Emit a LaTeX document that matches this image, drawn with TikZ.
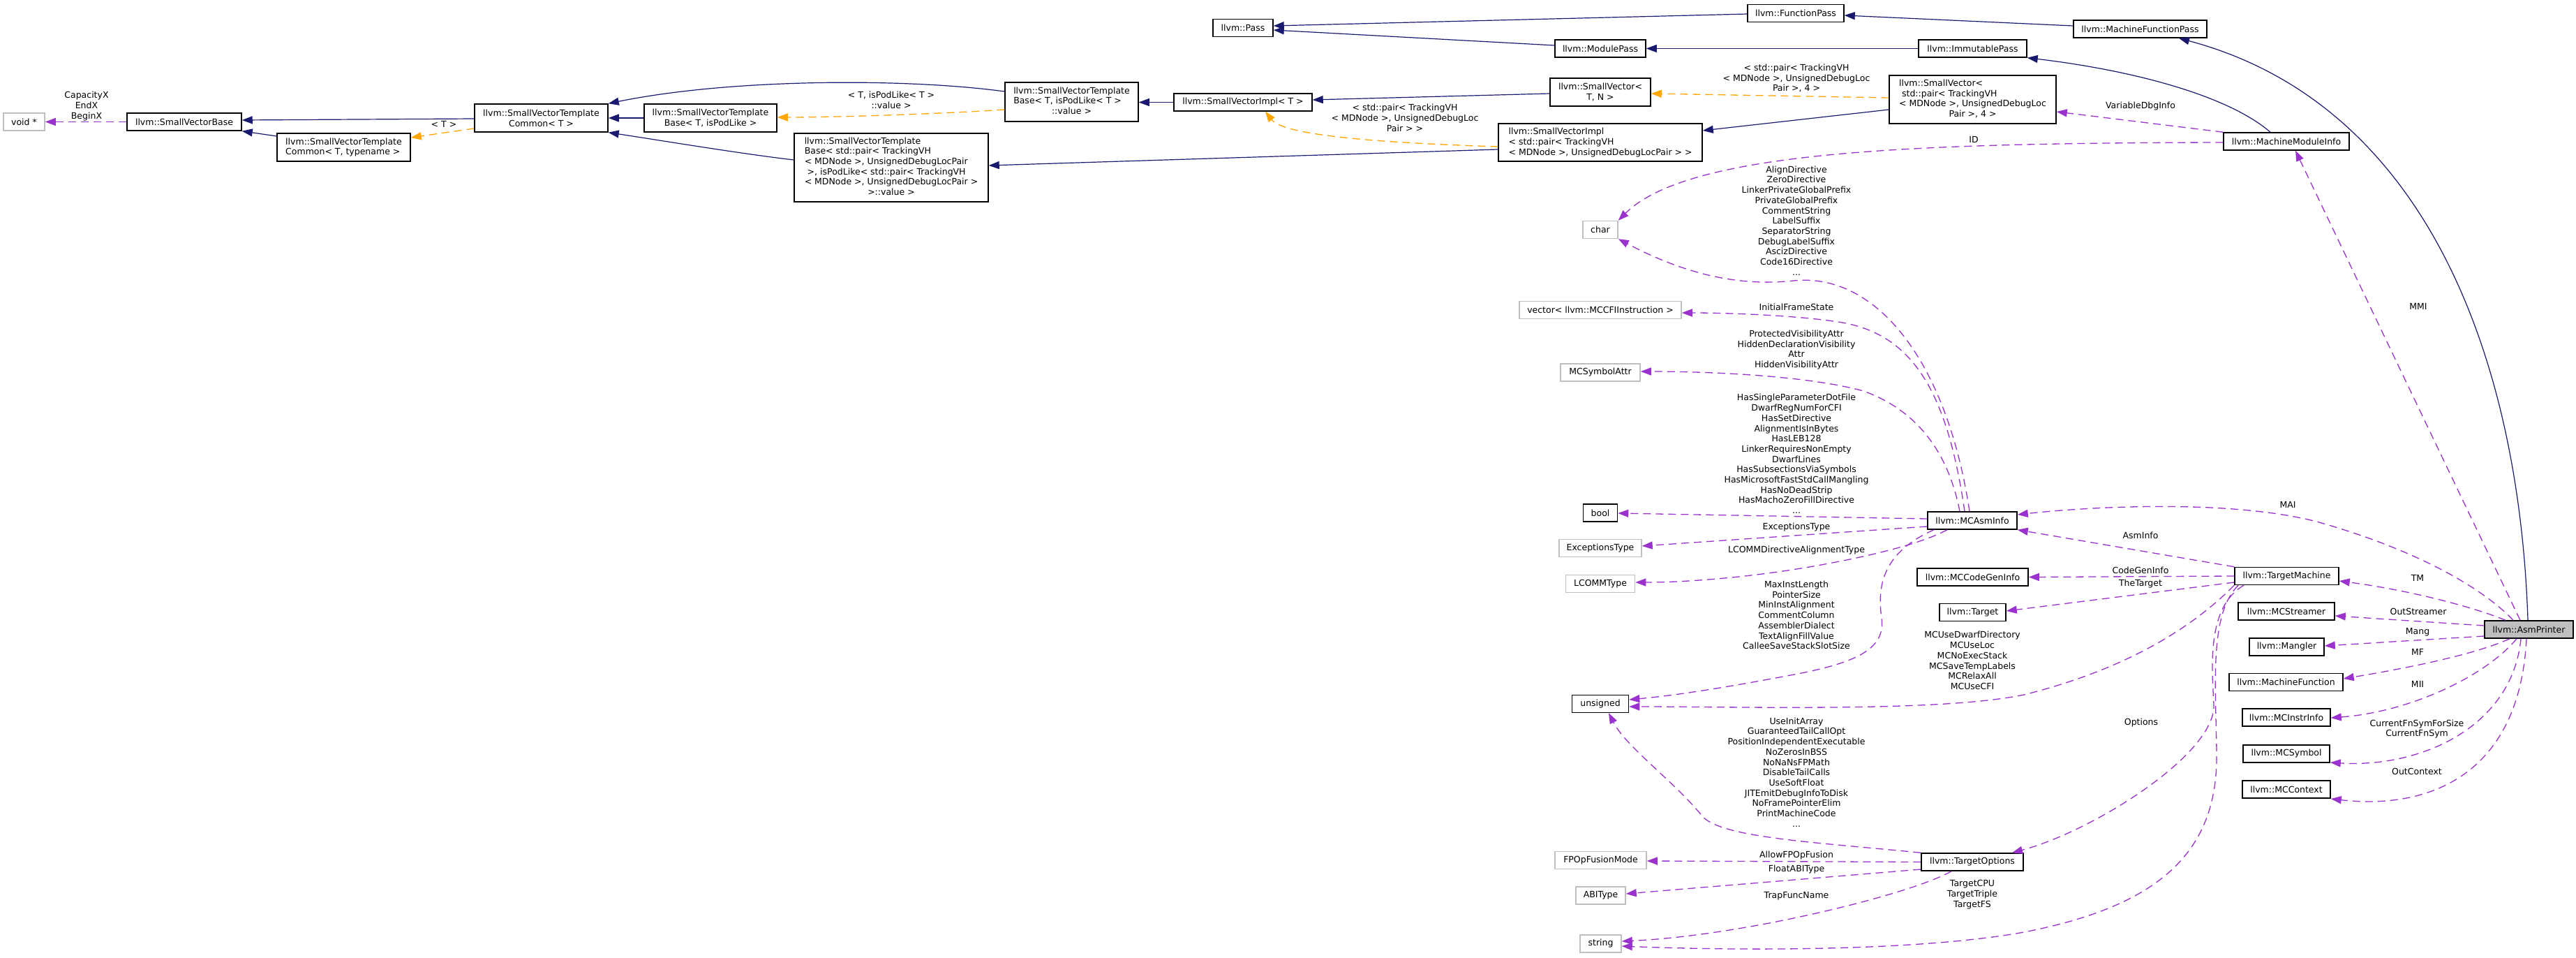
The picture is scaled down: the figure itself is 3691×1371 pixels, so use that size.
\documentclass[tikz,border=0pt]{standalone}
\usepackage{fontspec}
\setmainfont{DejaVu Sans}
\usetikzlibrary{arrows.meta}
\definecolor{edgeblue}{RGB}{25,25,112}
\definecolor{edgeorchid}{RGB}{154,50,205}
\definecolor{edgeorange}{RGB}{255,165,0}
\definecolor{boxgrey}{RGB}{191,191,191}
\newcommand\gfont{\fontsize{12.5}{14.7}\selectfont}
\tikzset{
  cls/.style={draw=black, line width=1.5pt, fill=white, inner sep=0pt, minimum height=25pt, font=\gfont, align=center},
  undoc/.style={cls, draw=boxgrey},
  focus/.style={cls, fill=boxgrey},
  headtip/.style={-{Triangle[length=15pt,width=11pt]}},
  inherit/.style={headtip, draw=edgeblue, line width=1.2pt},
  usage/.style={headtip, draw=edgeorchid, line width=1.3pt, dash pattern=on 11pt off 7pt},
  tmpl/.style={usage, draw=edgeorange},
  elabel/.style={font=\gfont, align=center, inner sep=0pt}
}

\begin{document}
\begin{tikzpicture}[x=1pt, y=-1pt]
  \useasboundingbox (0,0) rectangle (3691,1371);
  \fill[white] (0,0) rectangle (3691,1371);
  %%%%% CLASSES %%%%%
  \node[undoc, minimum width=59pt] (voidp) at (34.5,174.5) {void *};
  \node[cls, minimum width=164pt] (svbase) at (264,174.5) {llvm::SmallVectorBase};
  \node[cls, minimum width=191pt, minimum height=40pt, align=left] (svtcommontt) at (492.5,211) {llvm::SmallVectorTemplate\\Common< T, typename >};
  \node[cls, minimum width=191pt, minimum height=40pt] (svtcommont) at (775.5,169) {llvm::SmallVectorTemplate\\Common< T >};
  \node[cls, minimum width=190pt, minimum height=40pt] (svtbasetp) at (1018,169) {llvm::SmallVectorTemplate\\Base< T, isPodLike >};
  \node[cls, minimum width=191pt, minimum height=56pt] (svtbasetv) at (1535.5,146) {\begin{tabular}{@{}l@{}}llvm::SmallVectorTemplate\\Base< T, isPodLike< T >\\\multicolumn{1}{@{}c@{}}{::value >}\end{tabular}};
  \node[cls, minimum width=278pt, minimum height=98pt] (svtbasepair) at (1277,240) {\begin{tabular}{@{}l@{}}llvm::SmallVectorTemplate\\Base< std::pair< TrackingVH\\< MDNode >, UnsignedDebugLocPair\\\ >, isPodLike< std::pair< TrackingVH\\< MDNode >, UnsignedDebugLocPair >\\\multicolumn{1}{@{}c@{}}{>::value >}\end{tabular}};
  \node[cls, minimum width=86pt] (pass) at (1781,40) {llvm::Pass};
  \node[cls, minimum width=198pt] (svimplt) at (1781,146.5) {llvm::SmallVectorImpl< T >};
  \node[cls, minimum width=138pt] (functionpass) at (2573,19) {llvm::FunctionPass};
  \node[cls, minimum width=130pt] (modulepass) at (2293,69.5) {llvm::ModulePass};
  \node[cls, minimum width=155pt] (immutablepass) at (2826.5,69.5) {llvm::ImmutablePass};
  \node[cls, minimum width=144pt, minimum height=40pt] (smallvectortn) at (2293,132) {llvm::SmallVector<\\T, N >};
  \node[cls, minimum width=239pt, minimum height=69pt] (smallvectorpair) at (2826.5,142.5) {\begin{tabular}{@{}l@{}}llvm::SmallVector<\\\ std::pair< TrackingVH\\< MDNode >, UnsignedDebugLoc\\\multicolumn{1}{@{}c@{}}{Pair >, 4 >}\end{tabular}};
  \node[cls, minimum width=292pt, minimum height=54pt, align=left] (svimplpair) at (2293,204) {llvm::SmallVectorImpl\\< std::pair< TrackingVH\\< MDNode >, UnsignedDebugLocPair > >};
  \node[cls, minimum width=191pt] (machinefunctionpass) at (3066.5,41.5) {llvm::MachineFunctionPass};
  \node[cls, minimum width=180pt] (machinemoduleinfo) at (3276,202.5) {llvm::MachineModuleInfo};
  \node[undoc, minimum width=50pt] (char) at (2293,329) {char};
  \node[undoc, minimum width=232pt] (vectorcfi) at (2293,444) {vector< llvm::MCCFIInstruction >};
  \node[undoc, minimum width=114pt] (mcsymbolattr) at (2293,533.5) {MCSymbolAttr};
  \node[cls, minimum width=49pt] (bool) at (2293,734.5) {bool};
  \node[cls, minimum width=128pt] (mcasminfo) at (2826,745.5) {llvm::MCAsmInfo};
  \node[undoc, minimum width=118pt] (exceptionstype) at (2293,785) {ExceptionsType};
  \node[undoc, minimum width=99pt] (lcommtype) at (2293,836) {LCOMMType};
  \node[cls, minimum width=159pt] (mccodegeninfo) at (2826.5,826.5) {llvm::MCCodeGenInfo};
  \node[cls, minimum width=95pt] (target) at (2826.5,877) {llvm::Target};
  \node[cls, minimum width=81pt] (unsigned) at (2293,1008) {unsigned};
  \node[cls, minimum width=146pt] (targetoptions) at (2826,1234.5) {llvm::TargetOptions};
  \node[undoc, minimum width=131pt] (fpopfusionmode) at (2293.5,1232) {FPOpFusionMode};
  \node[undoc, minimum width=71pt] (abitype) at (2293.5,1282.5) {ABIType};
  \node[undoc, minimum width=59pt] (string) at (2293.5,1351.5) {string};
  \node[cls, minimum width=149pt] (targetmachine) at (3276.5,825) {llvm::TargetMachine};
  \node[cls, minimum width=138pt] (mcstreamer) at (3276,875.5) {llvm::MCStreamer};
  \node[focus, minimum width=127pt] (asmprinter) at (3623.5,901.5) {llvm::AsmPrinter};
  \node[cls, minimum width=107pt] (mangler) at (3276.5,926.5) {llvm::Mangler};
  \node[cls, minimum width=163pt] (machinefunction) at (3275.5,977) {llvm::MachineFunction};
  \node[cls, minimum width=126pt] (mcinstrinfo) at (3276,1027.5) {llvm::MCInstrInfo};
  \node[cls, minimum width=124pt] (mcsymbol) at (3276,1079.5) {llvm::MCSymbol};
  \node[cls, minimum width=126pt] (mccontext) at (3276,1130.5) {llvm::MCContext};

  %%%%% INHERITANCE %%%%%
  \draw[inherit] (machinefunctionpass.west |- 0,37) -- (functionpass.east |- 0,22);
  \draw[inherit] (functionpass.west |- 0,20) -- (pass.east |- 0,37);
  \draw[inherit] (modulepass.west |- 0,65) -- (pass.east |- 0,43);
  \draw[inherit] (immutablepass.west) -- (modulepass.east);
  \draw[inherit] (machinemoduleinfo.north -| 3253,0) .. controls (3190,135) and (3050,100) .. (immutablepass.south east);
  \draw[inherit] (asmprinter.north -| 3622,0) .. controls (3610,520) and (3480,150) .. (machinefunctionpass.south -| 3122,0);
  \draw[inherit] (smallvectorpair.west |- 0,157) -- (svimplpair.east |- 0,187);
  \draw[inherit] (svimplpair.west |- 0,214) -- (svtbasepair.east |- 0,237);
  \draw[inherit] (smallvectortn.west |- 0,134) -- (svimplt.east |- 0,143);
  \draw[inherit] (svimplt.west) -- (svtbasetv.east |- 0,146.5);
  \draw[inherit] (svtbasetv.west |- 0,131) .. controls (1300,112) and (1050,112) .. (svtcommont.north east);
  \draw[inherit] (svtbasetp.west) -- (svtcommont.east);
  \draw[inherit] (svtbasepair.west |- 0,229) .. controls (1060,220) and (940,200) .. (svtcommont.south east);
  \draw[inherit] (svtcommont.west |- 0,170) -- (svbase.east |- 0,172);
  \draw[inherit] (svtcommontt.west |- 0,195) -- (svbase.south east);

  %%%%% TEMPLATE INSTANCES %%%%%
  \draw[tmpl] (svimplpair.west |- 0,210) .. controls (1990,205) and (1840,195) .. (svimplt.south -| 1813,0);
  \draw[tmpl] (smallvectorpair.west |- 0,140) -- (smallvectortn.east |- 0,134);
  \draw[tmpl] (svtbasetv.west |- 0,157) .. controls (1350,163) and (1200,168) .. (svtbasetp.east |- 0,168);
  \draw[tmpl] (svtcommont.west |- 0,184) -- (svtcommontt.east |- 0,197);

  %%%%% USAGE %%%%%
  \draw[usage] (svbase.west) -- (voidp.east);
  \draw[usage] (machinemoduleinfo.north west) -- (smallvectorpair.east |- 0,160);
  \draw[usage] (machinemoduleinfo.west |- 0,204) .. controls (2750,205) and (2420,215) .. (char.north east);
  \draw[usage] (mcasminfo.north -| 2822,0) .. controls (2790,520) and (2690,390) .. (2570,402) .. controls (2480,412) and (2400,385) .. (char.south east);
  \draw[usage] (mcasminfo.north -| 2815,0) .. controls (2790,560) and (2740,480) .. (2640,462) .. controls (2580,452) and (2480,448) .. (vectorcfi.east |- 0,448);
  \draw[usage] (mcasminfo.north -| 2808,0) .. controls (2790,640) and (2740,585) .. (2670,560) .. controls (2590,538) and (2450,532) .. (mcsymbolattr.east |- 0,532);
  \draw[usage] (mcasminfo.west |- 0,743) -- (bool.east |- 0,735);
  \draw[usage] (mcasminfo.west |- 0,754) -- (exceptionstype.east |- 0,782);
  \draw[usage] (mcasminfo.south -| 2790,0) .. controls (2760,775) and (2700,792) .. (2620,807) .. controls (2520,826) and (2420,834) .. (lcommtype.east |- 0,834);
  \draw[usage] (mcasminfo.south -| 2771,0) .. controls (2705,788) and (2688,830) .. (2696,885) .. controls (2702,930) and (2660,950) .. (2560,968) .. controls (2470,985) and (2400,996) .. (unsigned.east |- 0,1002);
  \draw[usage] (targetmachine.north west) -- (mcasminfo.south east);
  \draw[usage] (asmprinter.north -| 3601,0) .. controls (3560,845) and (3470,790) .. (3323,748) .. controls (3200,715) and (3000,725) .. (mcasminfo.east |- 0,737);
  \draw[usage] (targetmachine.west) -- (mccodegeninfo.east);
  \draw[usage] (targetmachine.west |- 0,834) -- (target.east |- 0,875);
  \draw[usage] (targetmachine.south west) .. controls (3150,890) and (3060,955) .. (2900,995) .. controls (2780,1020) and (2500,1012) .. (unsigned.east |- 0,1012);
  \draw[usage] (targetmachine.south -| 3215,0) .. controls (3160,870) and (3170,960) .. (3172,1010) .. controls (3174,1080) and (3000,1190) .. (targetoptions.north -| 2883,0);
  \draw[usage] (targetmachine.south -| 3207,0) .. controls (3165,880) and (3175,980) .. (3176,1080) .. controls (3178,1230) and (3080,1300) .. (2900,1335) .. controls (2750,1362) and (2500,1362) .. (string.east |- 0,1355);
  \draw[usage] (targetoptions.north west) .. controls (2600,1206) and (2470,1200) .. (2440,1170) .. controls (2400,1120) and (2330,1070) .. (unsigned.south -| 2305,0);
  \draw[usage] (targetoptions.west) -- (fpopfusionmode.east |- 0,1233);
  \draw[usage] (targetoptions.west |- 0,1245) -- (abitype.east |- 0,1280);
  \draw[usage] (targetoptions.south -| 2796,0) .. controls (2740,1280) and (2500,1340) .. (string.east |- 0,1348);
  \draw[usage] (asmprinter.north -| 3611,0) -- (machinemoduleinfo.south -| 3289,0);
  \draw[usage] (asmprinter.north -| 3590,0) .. controls (3540,868) and (3450,845) .. (targetmachine.east |- 0,832);
  \draw[usage] (asmprinter.west |- 0,896) -- (mcstreamer.east |- 0,882);
  \draw[usage] (asmprinter.west |- 0,911) -- (mangler.east |- 0,925);
  \draw[usage] (asmprinter.south -| 3596,0) .. controls (3540,940) and (3430,960) .. (machinefunction.east |- 0,972);
  \draw[usage] (asmprinter.south -| 3606,0) .. controls (3560,970) and (3450,1020) .. (mcinstrinfo.east |- 0,1028);
  \draw[usage] (asmprinter.south -| 3612,0) .. controls (3600,1040) and (3470,1100) .. (mcsymbol.east |- 0,1092);
  \draw[usage] (asmprinter.south -| 3620,0) .. controls (3610,1110) and (3480,1160) .. (mccontext.east |- 0,1144);

  %%%%% EDGE LABELS %%%%%
  \node[elabel] (lcapacity) at (124,152) {CapacityX\\EndX\\BeginX};
  \node[elabel] (lt) at (636,178) {< T >};
  \node[elabel] (lpodlike) at (1277,143) {< T, isPodLike< T >\\::value >};
  \node[elabel] (lpairimpl) at (2013,169) {< std::pair< TrackingVH\\< MDNode >, UnsignedDebugLoc\\Pair > >};
  \node[elabel] (lpairvec) at (2574,112) {< std::pair< TrackingVH\\< MDNode >, UnsignedDebugLoc\\Pair >, 4 >};
  \node[elabel] (lvardbg) at (3067,152) {VariableDbgInfo};
  \node[elabel] (lid) at (2828,200) {ID};
  \node[elabel] (ldirective) at (2574,316) {AlignDirective\\ZeroDirective\\LinkerPrivateGlobalPrefix\\PrivateGlobalPrefix\\CommentString\\LabelSuffix\\SeparatorString\\DebugLabelSuffix\\AscizDirective\\Code16Directive\\...};
  \node[elabel] (lframe) at (2574,440) {InitialFrameState};
  \node[elabel] (lvisibility) at (2574,501) {ProtectedVisibilityAttr\\HiddenDeclarationVisibility\\Attr\\HiddenVisibilityAttr};
  \node[elabel] (lhas) at (2574,650) {HasSingleParameterDotFile\\DwarfRegNumForCFI\\HasSetDirective\\AlignmentIsInBytes\\HasLEB128\\LinkerRequiresNonEmpty\\DwarfLines\\HasSubsectionsViaSymbols\\HasMicrosoftFastStdCallMangling\\HasNoDeadStrip\\HasMachoZeroFillDirective\\...};
  \node[elabel] (lexceptions) at (2574,755) {ExceptionsType};
  \node[elabel] (llcomm) at (2574,788) {LCOMMDirectiveAlignmentType};
  \node[elabel] (linst) at (2574,881) {MaxInstLength\\PointerSize\\MinInstAlignment\\CommentColumn\\AssemblerDialect\\TextAlignFillValue\\CalleeSaveStackSlotSize};
  \node[elabel] (lmcuse) at (2826,946) {MCUseDwarfDirectory\\MCUseLoc\\MCNoExecStack\\MCSaveTempLabels\\MCRelaxAll\\MCUseCFI};
  \node[elabel] (lasminfo) at (3067,767) {AsmInfo};
  \node[elabel] (lcodegen) at (3067,817) {CodeGenInfo};
  \node[elabel] (ltarget) at (3067,836) {TheTarget};
  \node[elabel] (loptions) at (3068,1035) {Options};
  \node[elabel] (lflags) at (2574,1106) {UseInitArray\\GuaranteedTailCallOpt\\PositionIndependentExecutable\\NoZerosInBSS\\NoNaNsFPMath\\DisableTailCalls\\UseSoftFloat\\JITEmitDebugInfoToDisk\\NoFramePointerElim\\PrintMachineCode\\...};
  \node[elabel] (lfusion) at (2574,1225) {AllowFPOpFusion};
  \node[elabel] (lfloatabi) at (2574,1245) {FloatABIType};
  \node[elabel] (ltrap) at (2574,1283) {TrapFuncName};
  \node[elabel] (ltargetcpu) at (2826,1281) {TargetCPU\\TargetTriple\\TargetFS};
  \node[elabel] (lmai) at (3278,723) {MAI};
  \node[elabel] (lmmi) at (3465,439) {MMI};
  \node[elabel] (ltm) at (3464,828) {TM};
  \node[elabel] (lout) at (3465,876) {OutStreamer};
  \node[elabel] (lmang) at (3464,905) {Mang};
  \node[elabel] (lmf) at (3464,934) {MF};
  \node[elabel] (lmii) at (3464,980) {MII};
  \node[elabel] (lsym) at (3463,1044) {CurrentFnSymForSize\\CurrentFnSym};
  \node[elabel] (lcontext) at (3463,1105) {OutContext};
\end{tikzpicture}
\end{document}
